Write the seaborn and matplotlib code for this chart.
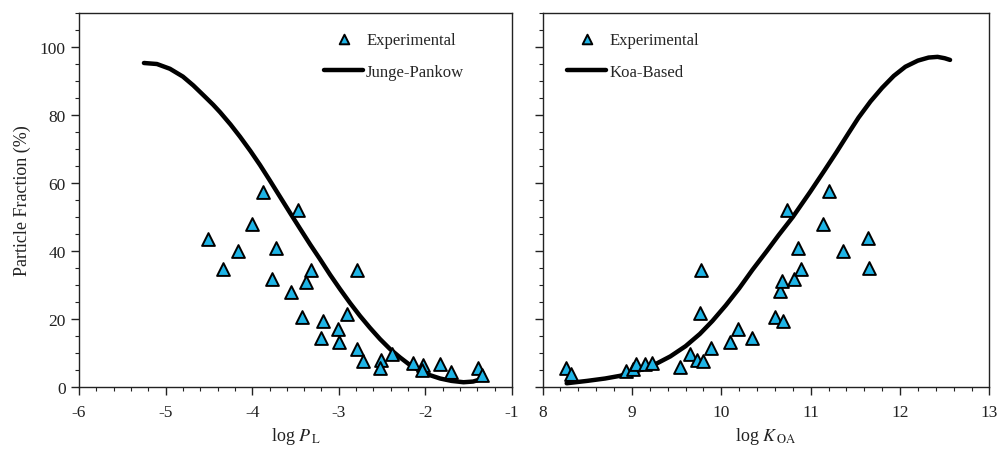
import matplotlib
matplotlib.use("Agg")
import matplotlib.pyplot as plt
from matplotlib.ticker import MultipleLocator
import seaborn as sns
import pandas as pd

# Experimental particle fractions vs. log P_L
pl_exp_x = [-4.51, -4.34, -4.16, -4.00, -3.87, -3.475, -3.725, -3.775, -3.32, -3.38,
            -3.556, -2.793, -3.43, -3.186, -2.90, -3.21, -3.013, -2.994, -2.786, -2.724,
            -2.516, -2.524, -2.386, -2.147, -2.024, -2.04, -1.83, -1.71, -1.39, -1.343]
pl_exp_y = [43.5, 34.7, 39.9, 47.9, 57.5, 52.1, 40.8, 31.7, 34.5, 31.0,
            28.0, 34.4, 20.6, 19.4, 21.4, 14.5, 17.0, 13.1, 11.3, 7.7,
            8.0, 5.7, 9.6, 7.0, 6.5, 5.0, 6.7, 4.5, 5.7, 3.4]

# Junge-Pankow model curve
jp_x = [-5.25, -5.10, -4.95, -4.80, -4.68, -4.55, -4.45, -4.37, -4.25, -4.14,
        -4.02, -3.91, -3.80, -3.68, -3.56, -3.448, -3.33, -3.217, -3.10, -2.986,
        -2.87, -2.755, -2.64, -2.524, -2.41, -2.293, -2.18, -2.06, -1.95, -1.83,
        -1.70, -1.56, -1.45, -1.33]
jp_y = [95.3, 95.0, 93.6, 91.3, 88.7, 85.5, 83.0, 80.8, 77.2, 73.6,
        69.4, 65.3, 60.9, 56.0, 51.1, 46.6, 41.9, 37.6, 33.0, 28.8,
        24.7, 20.9, 17.4, 14.1, 11.2, 8.7, 6.5, 4.7, 3.5, 2.5,
        1.8, 1.4, 1.6, 2.5]

# Experimental particle fractions vs. log K_OA
koa_exp_x = [8.265, 8.318, 8.929, 9.011, 9.048, 9.141, 9.23, 9.54, 9.652, 9.727,
             9.794, 9.764, 9.775, 9.887, 10.092, 10.192, 10.349, 10.606, 10.696, 10.659,
             10.681, 10.819, 10.89, 10.853, 11.36, 11.64, 11.658, 10.74, 11.2, 11.137]
koa_exp_y = [5.7, 3.7, 4.7, 5.4, 6.7, 6.7, 7.2, 6.0, 9.6, 8.0,
             7.7, 21.7, 34.5, 11.6, 13.3, 17.2, 14.5, 20.7, 19.4, 28.1,
             31.2, 31.7, 34.7, 40.9, 40.0, 43.9, 34.9, 52.1, 57.7, 47.9]

# Koa-based model curve
koa_x = [8.27, 8.50, 8.70, 8.87, 9.05, 9.24, 9.43, 9.60, 9.76, 9.90,
         10.05, 10.20, 10.35, 10.51, 10.64, 10.80, 10.995, 11.15, 11.29, 11.42,
         11.535, 11.67, 11.80, 11.93, 12.06, 12.20, 12.32, 12.42, 12.50, 12.56]
koa_y = [1.1, 1.8, 2.5, 3.3, 4.6, 6.4, 9.0, 12.0, 15.6, 19.4,
         24.0, 29.0, 34.5, 40.0, 44.6, 50.0, 57.4, 63.5, 69.1, 74.5,
         79.2, 84.0, 88.0, 91.5, 94.2, 96.0, 96.9, 97.1, 96.7, 96.2]

sns.set_style("ticks")
plt.rcParams["font.family"] = ["Liberation Serif", "DejaVu Serif"]
plt.rcParams["mathtext.fontset"] = "stix"
plt.rcParams["font.size"] = 12
plt.rcParams["axes.unicode_minus"] = False

MARKER_FACE = "#1EB4E6"

fig = plt.figure(figsize=(10.01, 4.64), dpi=100)
ax1 = fig.add_axes([0.0789, 0.1638, 0.4326, 0.806])
ax2 = fig.add_axes([0.542, 0.1638, 0.4464, 0.806])

df_pl = pd.DataFrame({"x": pl_exp_x, "y": pl_exp_y})
df_jp = pd.DataFrame({"x": jp_x, "y": jp_y})
df_koa_exp = pd.DataFrame({"x": koa_exp_x, "y": koa_exp_y})
df_koa = pd.DataFrame({"x": koa_x, "y": koa_y})

def draw(ax, df_pts, df_line, line_label):
    sns.lineplot(data=df_line, x="x", y="y", ax=ax, color="black", linewidth=3.2,
                 sort=False, label=line_label, zorder=2)
    sns.scatterplot(data=df_pts, x="x", y="y", ax=ax, marker="^", s=85,
                    color=MARKER_FACE, edgecolor="black", linewidth=1.4,
                    label="Experimental", zorder=3)

draw(ax1, df_pl, df_jp, "Junge-Pankow")
draw(ax2, df_koa_exp, df_koa, "Koa-Based")

for ax in (ax1, ax2):
    ax.set_ylim(0, 110)
    ax.yaxis.set_major_locator(MultipleLocator(20))
    ax.yaxis.set_minor_locator(MultipleLocator(5))
    ax.xaxis.set_major_locator(MultipleLocator(1))
    ax.xaxis.set_minor_locator(MultipleLocator(0.2))
    ax.tick_params(which="major", direction="out", length=6, width=1, colors="#222222",
                   labelsize=12.5, labelcolor="#222222")
    ax.tick_params(which="minor", direction="out", length=3, width=0.8, colors="#222222")
    ax.tick_params(axis="x", pad=6)
    for sp in ax.spines.values():
        sp.set_visible(True)
        sp.set_linewidth(1.0)
        sp.set_color("#222222")
    ax.set_ylabel("")
    ax.set_xlabel("")

ax1.set_xlim(-6, -1)
ax1.set_yticks([0, 20, 40, 60, 80, 100])
ax1.set_ylabel("Particle Fraction (%)", fontsize=13, color="#222222", labelpad=6)
ax1.set_xlabel(r"log $P_{\,\mathrm{L}}$", fontsize=13, color="#222222", labelpad=4)

ax2.set_xlim(8, 13)
ax2.tick_params(axis="y", labelleft=False)
ax2.set_xlabel(r"log $K_{\,\mathrm{OA}}$", fontsize=13, color="#222222", labelpad=4)

for ax, anchor in ((ax1, (0.532, 0.99)), (ax2, (0.022, 0.99))):
    handles, labels = ax.get_legend_handles_labels()
    order = [labels.index("Experimental"), 1 - labels.index("Experimental")]
    ax.legend([handles[i] for i in order], [labels[i] for i in order],
              loc="upper left", bbox_to_anchor=anchor, frameon=False,
              fontsize=12, handlelength=2.3, handletextpad=0.2, labelspacing=0.95,
              markerscale=0.75)

fig.savefig("out.png", dpi=100)
